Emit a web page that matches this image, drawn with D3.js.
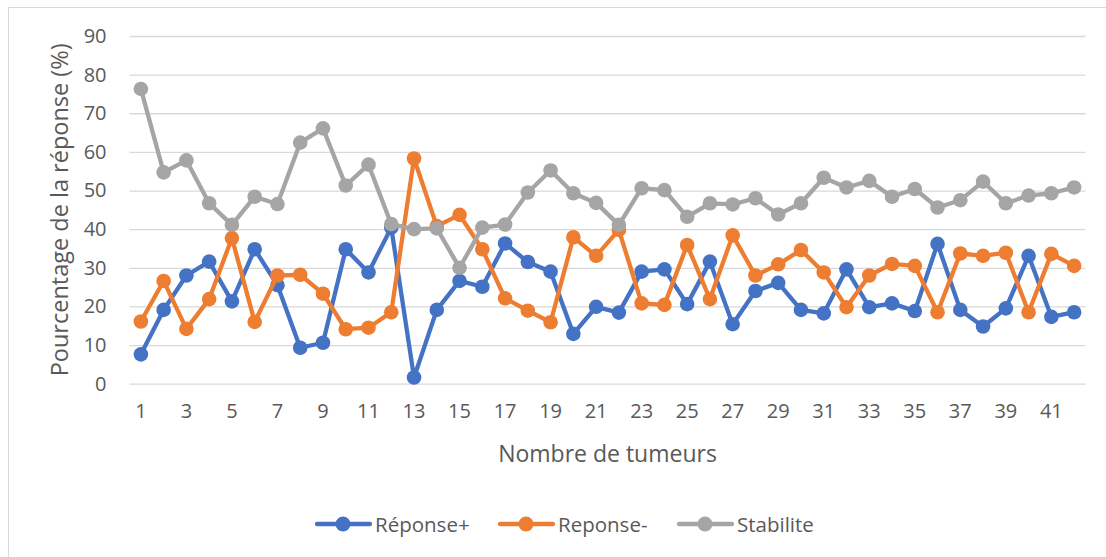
<!DOCTYPE html>
<html>
<head>
<meta charset="utf-8">
<script src="https://cdn.jsdelivr.net/npm/d3@7"></script>
<style>
  html, body { margin: 0; padding: 0; background: #fff; }
  svg { display: block; }
  text { font-family: "Open Sans", "Noto Sans", sans-serif; fill: #595959; }
</style>
</head>
<body>
<svg id="chart" width="1106" height="557"></svg>
<script>
// Number of tumours (category axis)
const categories = d3.range(1, 43);

// Response percentages per tumour count
const reponsePlus = [7.6, 19.1, 28.0, 31.6, 21.3, 34.8, 25.5, 9.3, 10.6, 34.8, 28.8,
  40.4, 1.6, 19.1, 26.6, 25.1, 36.3, 31.5, 29.0, 12.9, 19.9, 18.4, 29.0, 29.6, 20.6, 31.6,
  15.4, 24.0, 26.1, 19.1, 18.2, 29.6, 19.8, 20.8, 18.8, 36.2, 19.1, 14.8, 19.5, 33.1, 17.3, 18.5];
const reponseMoins = [16.1, 26.6, 14.2, 21.9, 37.7, 16.0, 28.0, 28.2, 23.3, 14.1, 14.5,
  18.5, 58.3, 40.8, 43.7, 34.8, 22.1, 18.9, 15.9, 37.9, 33.1, 39.8, 20.8, 20.4, 35.9, 21.9,
  38.4, 28.0, 30.9, 34.6, 28.8, 19.8, 28.0, 31.0, 30.5, 18.5, 33.7, 33.1, 33.9, 18.5, 33.6, 30.5];
const stabilite = [76.3, 54.7, 57.8, 46.7, 41.1, 48.4, 46.5, 62.4, 66.1, 51.3, 56.7,
  41.3, 40.0, 40.2, 30.0, 40.4, 41.2, 49.5, 55.2, 49.3, 46.8, 41.1, 50.6, 50.1, 43.2, 46.7,
  46.4, 48.0, 43.8, 46.7, 53.3, 50.8, 52.5, 48.4, 50.4, 45.6, 47.5, 52.3, 46.7, 48.7, 49.3, 50.8];

const seriesNames = ["Réponse+", "Reponse-", "Stabilite"];
const seriesColors = ["#4472C4", "#ED7D31", "#A5A5A5"];
const yTicks = [0, 10, 20, 30, 40, 50, 60, 70, 80, 90];

const series = [reponsePlus, reponseMoins, stabilite].map((vals, i) => ({
  name: seriesNames[i], color: seriesColors[i], values: vals
}));

const svg = d3.select("#chart");

// Outer chart frame
svg.append("rect")
  .attr("x", 8.5).attr("y", 7.5)
  .attr("width", 1110).attr("height", 560)
  .attr("fill", "#fff").attr("stroke", "#D9D9D9").attr("stroke-width", 1);

const plot = { left: 129.5, right: 1085.5, top: 36, bottom: 383.7 };

const x = d3.scaleBand().domain(categories).range([plot.left, plot.right]);
const y = d3.scaleLinear().domain([0, 90]).range([plot.bottom, plot.top]);
const cx = d => x(d) + x.bandwidth() / 2;

// Horizontal gridlines and y tick labels
const yAxis = d3.axisLeft(y).tickValues(yTicks).tickSize(-(plot.right - plot.left)).tickPadding(23);
const gy = svg.append("g").attr("transform", `translate(${plot.left},0)`).call(yAxis);
gy.select(".domain").remove();
gy.selectAll(".tick line").attr("stroke", "#D9D9D9").attr("stroke-width", 1.3);
gy.selectAll(".tick text").attr("font-size", 20).attr("fill", "#595959")
  .style("font-family", '"Open Sans", sans-serif');

// X tick labels (every other category)
const xAxis = d3.axisBottom(x).tickValues(categories.filter(c => c % 2 === 1)).tickSize(0).tickPadding(20);
const gx = svg.append("g").attr("transform", `translate(0,${plot.bottom})`).call(xAxis);
gx.select(".domain").remove();
gx.selectAll(".tick text").attr("font-size", 20).attr("fill", "#595959")
  .style("font-family", '"Open Sans", sans-serif');

// Axis titles
svg.append("text")
  .attr("transform", `translate(68,${(plot.top + plot.bottom) / 2}) rotate(-90)`)
  .attr("text-anchor", "middle").attr("font-size", 23.5)
  .text("Pourcentage de la réponse (%)");
svg.append("text")
  .attr("x", (plot.left + plot.right) / 2).attr("y", 462)
  .attr("text-anchor", "middle").attr("font-size", 23)
  .text("Nombre de tumeurs");

// Lines and markers
const line = d3.line().x((d, i) => cx(categories[i])).y(d => y(d));
series.forEach(s => {
  const g = svg.append("g");
  g.append("path").datum(s.values)
    .attr("d", line).attr("fill", "none")
    .attr("stroke", s.color).attr("stroke-width", 4.3)
    .attr("stroke-linejoin", "round").attr("stroke-linecap", "round");
  g.selectAll("circle").data(s.values).join("circle")
    .attr("cx", (d, i) => cx(categories[i])).attr("cy", d => y(d))
    .attr("r", 7.3).attr("fill", s.color);
});

// Legend
const legendX = [315, 498, 677];
const legend = svg.append("g").attr("transform", "translate(0,524)");
series.forEach((s, i) => {
  const g = legend.append("g").attr("transform", `translate(${legendX[i]},0)`);
  g.append("line").attr("x1", 2).attr("x2", 55).attr("y1", 0).attr("y2", 0)
    .attr("stroke", s.color).attr("stroke-width", 4.3).attr("stroke-linecap", "round");
  g.append("circle").attr("cx", 28).attr("cy", 0).attr("r", 7.5).attr("fill", s.color);
  g.append("text").attr("x", 60).attr("y", 7.5).attr("font-size", 20.5).text(s.name);
});
</script>
</body>
</html>
